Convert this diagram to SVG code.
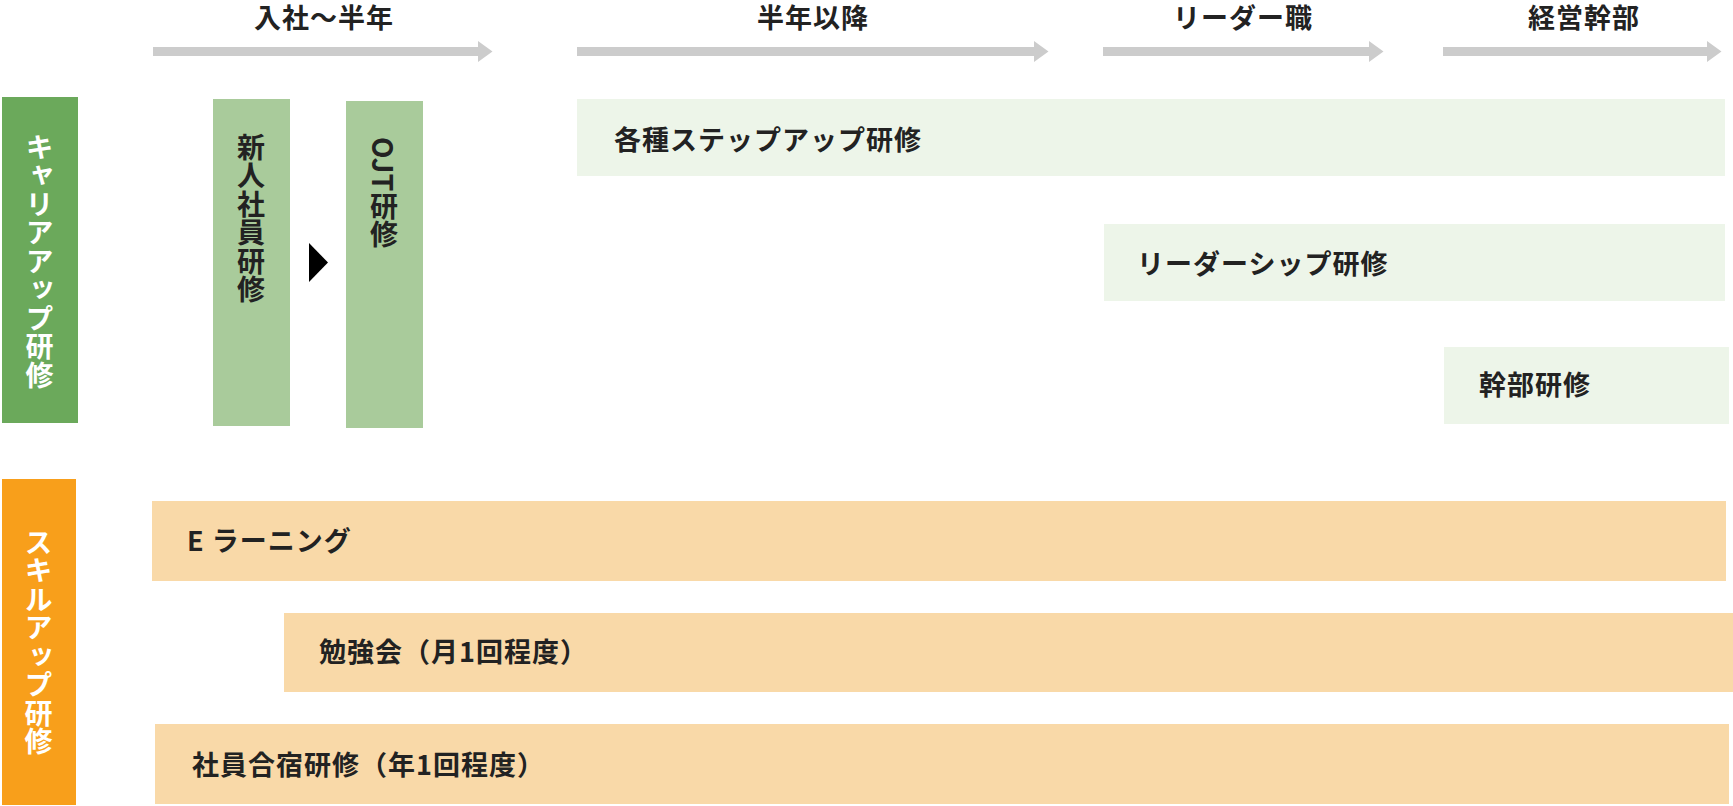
<svg xmlns="http://www.w3.org/2000/svg" width="1733" height="806" viewBox="0 0 1733 806">
<style>
text{font-family:"Noto Sans CJK JP","Noto Sans",sans-serif;font-weight:700;font-size:27px;fill:#222;}
.hd{text-anchor:middle;letter-spacing:1px;}
.lbl{letter-spacing:1px;}
.vt{writing-mode:vertical-rl;font-size:28px;letter-spacing:0.5px;}
.wt{fill:#fff;}
.career{fill:#6BA95B;}
.skill{fill:#F89F1B;}
.early{fill:#A9CB9B;}
.later{fill:#EDF5E9;}
.sk{fill:#F9D9A8;}
.arr{fill:#CCCCCC;}
</style>
<rect x="0" y="0" width="1733" height="806" fill="#fff"/>
<g id="headers">
<text class="hd" x="324" y="28">入社〜半年</text>
<text class="hd" x="813" y="28">半年以降</text>
<text class="hd" x="1243" y="28">リーダー職</text>
<text class="hd" x="1584" y="28">経営幹部</text>
</g>
<g id="connectors">
<polygon class="arr" points="153,47 478,47 478,41 492.5,51.5 478,62 478,56 153,56"/>
<polygon class="arr" points="577,47 1034,47 1034,41 1048.5,51.5 1034,62 1034,56 577,56"/>
<polygon class="arr" points="1103,47 1369,47 1369,41 1383.5,51.5 1369,62 1369,56 1103,56"/>
<polygon class="arr" points="1443,47 1707,47 1707,41 1721.5,51.5 1707,62 1707,56 1443,56"/>
<polygon fill="#000" points="309,243 328,262.5 309,282"/>
</g>
<g id="career-label">
<rect class="career" x="2" y="97" width="76" height="326"/>
<text class="vt wt" x="39.5" y="133">キャリアアップ研修</text>
</g>
<g id="shinjin">
<rect class="early" x="213" y="99" width="77" height="327"/>
<text class="vt" x="251" y="133">新人社員研修</text>
</g>
<g id="ojt">
<rect class="early" x="346" y="101" width="77" height="327"/>
<text class="vt" x="384" y="137">OJT研修</text>
</g>
<g id="stepup">
<rect class="later" x="577" y="99" width="1148" height="77"/>
<text class="lbl" x="614" y="150">各種ステップアップ研修</text>
</g>
<g id="leadership">
<rect class="later" x="1104" y="224" width="621" height="77"/>
<text class="lbl" x="1137" y="274">リーダーシップ研修</text>
</g>
<g id="kanbu">
<rect class="later" x="1444" y="347" width="285" height="77"/>
<text class="lbl" x="1479" y="395">幹部研修</text>
</g>
<g id="skill-label">
<rect class="skill" x="2" y="479" width="74" height="326"/>
<text class="vt wt" x="38.5" y="528">スキルアップ研修</text>
</g>
<g id="elearning">
<rect class="sk" x="152" y="501" width="1574" height="80"/>
<text class="lbl" x="187" y="551">E ラーニング</text>
</g>
<g id="benkyokai">
<rect class="sk" x="284" y="613" width="1449" height="79"/>
<text class="lbl" x="319" y="662">勉強会（月1回程度）</text>
</g>
<g id="gasshuku">
<rect class="sk" x="155" y="724" width="1574" height="80"/>
<text class="lbl" x="192" y="775">社員合宿研修（年1回程度）</text>
</g>
</svg>
